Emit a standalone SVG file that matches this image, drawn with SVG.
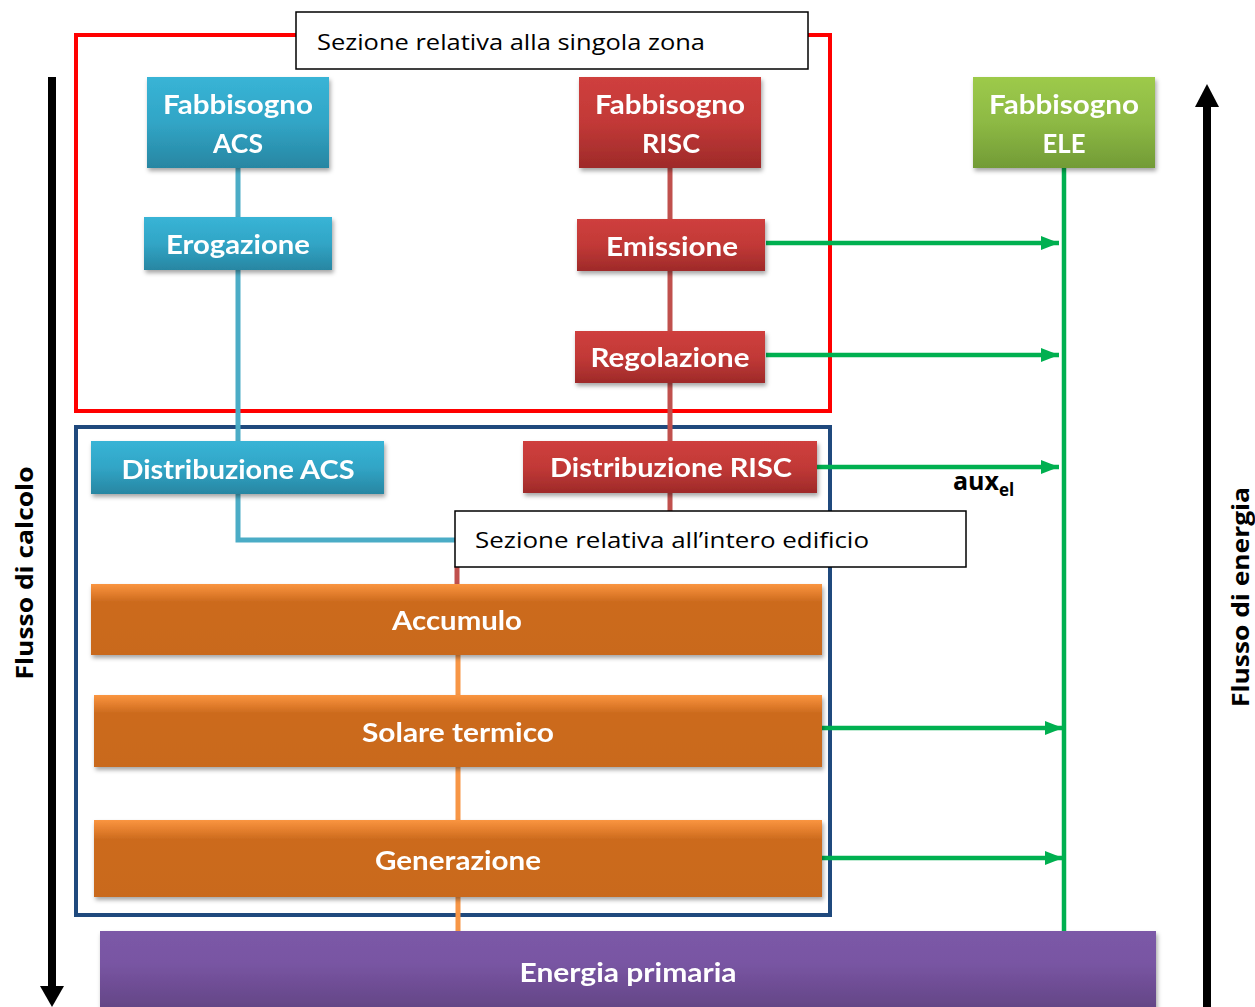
<svg xmlns="http://www.w3.org/2000/svg" width="1255" height="1007" viewBox="0 0 1255 1007">
<defs>
<linearGradient id="gTeal" x1="0" y1="0" x2="0" y2="1"><stop offset="0" stop-color="#38B4D6"/><stop offset="0.5" stop-color="#31A5C6"/><stop offset="1" stop-color="#2886A2"/></linearGradient>
<linearGradient id="gRed" x1="0" y1="0" x2="0" y2="1"><stop offset="0" stop-color="#CF3F3D"/><stop offset="0.5" stop-color="#C23937"/><stop offset="1" stop-color="#9E2A29"/></linearGradient>
<linearGradient id="gGreen" x1="0" y1="0" x2="0" y2="1"><stop offset="0" stop-color="#9DCA4A"/><stop offset="0.5" stop-color="#8DB944"/><stop offset="1" stop-color="#729B36"/></linearGradient>
<linearGradient id="gOrange" x1="0" y1="0" x2="0" y2="1"><stop offset="0" stop-color="#FA9540"/><stop offset="0.14" stop-color="#E27D2C"/><stop offset="0.25" stop-color="#CC6B1E"/><stop offset="1" stop-color="#C9691D"/></linearGradient>
<linearGradient id="gPurple" x1="0" y1="0" x2="0" y2="1"><stop offset="0" stop-color="#7B59A7"/><stop offset="0.4" stop-color="#7955A3"/><stop offset="1" stop-color="#624584"/></linearGradient>
<filter id="sh" x="-5%" y="-10%" width="110%" height="130%"><feDropShadow dx="1.5" dy="3" stdDeviation="2" flood-color="#000" flood-opacity="0.35"/></filter>
<marker id="ga" markerWidth="18" markerHeight="14" refX="18" refY="7" orient="auto" markerUnits="userSpaceOnUse"><path d="M0,0 L18,7 L0,14 Z" fill="#00B050"/></marker>
<style>
.nt{font-family:Lato,"Open Sans","Liberation Sans",sans-serif;font-weight:bold;font-size:26px;fill:#fff;text-anchor:middle}
.lb{font-family:"Open Sans","Liberation Sans",sans-serif;font-size:22px;fill:#000}
.ax{font-family:"Open Sans","Liberation Sans",sans-serif;font-weight:bold;fill:#000}
.lbox{fill:#fff;stroke:#000;stroke-width:1.5}
.gl{stroke:#00B050;stroke-width:4.5;fill:none}
.cb{stroke:#4BACC6;stroke-width:5;fill:none}
.cr{stroke:#C0504D;stroke-width:5;fill:none}
.co{stroke:#F79646;stroke-width:5;fill:none}
</style>
</defs>
<rect width="1255" height="1007" fill="#fff"/>

<!-- section frames -->
<g id="zona">
<rect x="76" y="35" width="754" height="376" fill="none" stroke="#FF0000" stroke-width="4"/>
</g>
<g id="edificio">
<rect x="76" y="427" width="754" height="488" fill="none" stroke="#1F497D" stroke-width="4"/>
</g>

<!-- connectors -->
<g id="connectors">
<path class="cb" d="M238,168 V217 M238,270 V441 M238,494 V540 H456"/>
<path class="cr" d="M670,168 V219 M670,271 V331 M670,383 V441 M670,493 V512 M457,566 V584"/>
<path class="co" d="M458,655 V695 M458,767 V820 M458,897 V931"/>
<line class="gl" x1="1064" y1="168" x2="1064" y2="931"/>
<line class="gl" x1="766" y1="243" x2="1059" y2="243" marker-end="url(#ga)"/>
<line class="gl" x1="766" y1="355" x2="1059" y2="355" marker-end="url(#ga)"/>
<line class="gl" x1="817" y1="467" x2="1059" y2="467" marker-end="url(#ga)"/>
<line class="gl" x1="822" y1="728" x2="1063" y2="728" marker-end="url(#ga)"/>
<line class="gl" x1="822" y1="858" x2="1063" y2="858" marker-end="url(#ga)"/>
</g>

<g id="label-zona">
<rect class="lbox" x="296" y="12" width="512" height="57"/>
<text class="lb" x="317" y="50" textLength="388" lengthAdjust="spacingAndGlyphs">Sezione relativa alla singola zona</text>
</g>

<g id="fabb-acs" filter="url(#sh)">
<rect x="147" y="77" width="182" height="91" fill="url(#gTeal)"/>
<text class="nt" x="238" y="114" textLength="150" lengthAdjust="spacingAndGlyphs">Fabbisogno</text>
<text class="nt" x="238" y="153" textLength="50" lengthAdjust="spacingAndGlyphs">ACS</text>
</g>
<g id="erogazione" filter="url(#sh)">
<rect x="144" y="217" width="188" height="53" fill="url(#gTeal)"/>
<text class="nt" x="238" y="254" textLength="144" lengthAdjust="spacingAndGlyphs">Erogazione</text>
</g>
<g id="distr-acs" filter="url(#sh)">
<rect x="91" y="441" width="293" height="53" fill="url(#gTeal)"/>
<text class="nt" x="238" y="479" textLength="233" lengthAdjust="spacingAndGlyphs">Distribuzione ACS</text>
</g>

<g id="fabb-risc" filter="url(#sh)">
<rect x="579" y="77" width="182" height="91" fill="url(#gRed)"/>
<text class="nt" x="670" y="114" textLength="150" lengthAdjust="spacingAndGlyphs">Fabbisogno</text>
<text class="nt" x="671" y="153" textLength="58" lengthAdjust="spacingAndGlyphs">RISC</text>
</g>
<g id="emissione" filter="url(#sh)">
<rect x="577" y="219" width="188" height="52" fill="url(#gRed)"/>
<text class="nt" x="672" y="256" textLength="132" lengthAdjust="spacingAndGlyphs">Emissione</text>
</g>
<g id="regolazione" filter="url(#sh)">
<rect x="575" y="331" width="190" height="52" fill="url(#gRed)"/>
<text class="nt" x="670" y="367" textLength="159" lengthAdjust="spacingAndGlyphs">Regolazione</text>
</g>
<g id="distr-risc" filter="url(#sh)">
<rect x="523" y="441" width="294" height="52" fill="url(#gRed)"/>
<text class="nt" x="671" y="477" textLength="242" lengthAdjust="spacingAndGlyphs">Distribuzione RISC</text>
</g>

<g id="fabb-ele" filter="url(#sh)">
<rect x="973" y="77" width="182" height="91" fill="url(#gGreen)"/>
<text class="nt" x="1064" y="114" textLength="150" lengthAdjust="spacingAndGlyphs">Fabbisogno</text>
<text class="nt" x="1064" y="153" textLength="43" lengthAdjust="spacingAndGlyphs">ELE</text>
</g>

<g id="label-edificio">
<rect class="lbox" x="455" y="511" width="511" height="56"/>
<text class="lb" x="475" y="548" textLength="394" lengthAdjust="spacingAndGlyphs">Sezione relativa all’intero edificio</text>
</g>

<g id="aux-el">
<text class="ax" x="953" y="490" style="font-size:25px">aux<tspan style="font-size:17px" dy="6">el</tspan></text>
</g>

<g id="accumulo" filter="url(#sh)">
<rect x="91" y="584" width="731" height="71" fill="url(#gOrange)"/>
<text class="nt" x="457" y="630" textLength="130" lengthAdjust="spacingAndGlyphs">Accumulo</text>
</g>
<g id="solare" filter="url(#sh)">
<rect x="94" y="695" width="728" height="72" fill="url(#gOrange)"/>
<text class="nt" x="458" y="742" textLength="192" lengthAdjust="spacingAndGlyphs">Solare termico</text>
</g>
<g id="generazione" filter="url(#sh)">
<rect x="94" y="820" width="728" height="77" fill="url(#gOrange)"/>
<text class="nt" x="458" y="870" textLength="166" lengthAdjust="spacingAndGlyphs">Generazione</text>
</g>

<g id="energia-primaria" filter="url(#sh)">
<rect x="100" y="931" width="1056" height="80" fill="url(#gPurple)"/>
<text class="nt" x="628" y="982" textLength="217" lengthAdjust="spacingAndGlyphs">Energia primaria</text>
</g>

<g id="flusso-calcolo">
<line x1="52" y1="77" x2="52" y2="988" stroke="#000" stroke-width="8"/>
<polygon points="40,986 64,986 52,1007" fill="#000"/>
<text class="ax" style="font-size:24px" text-anchor="middle" transform="translate(33,573) rotate(-90)" textLength="213" lengthAdjust="spacingAndGlyphs">Flusso di calcolo</text>
</g>
<g id="flusso-energia">
<line x1="1207" y1="105" x2="1207" y2="1007" stroke="#000" stroke-width="8"/>
<polygon points="1195,107 1219,107 1207,84" fill="#000"/>
<text class="ax" style="font-size:24px" text-anchor="middle" transform="translate(1249,597) rotate(-90)" textLength="220" lengthAdjust="spacingAndGlyphs">Flusso di energia</text>
</g>
</svg>
